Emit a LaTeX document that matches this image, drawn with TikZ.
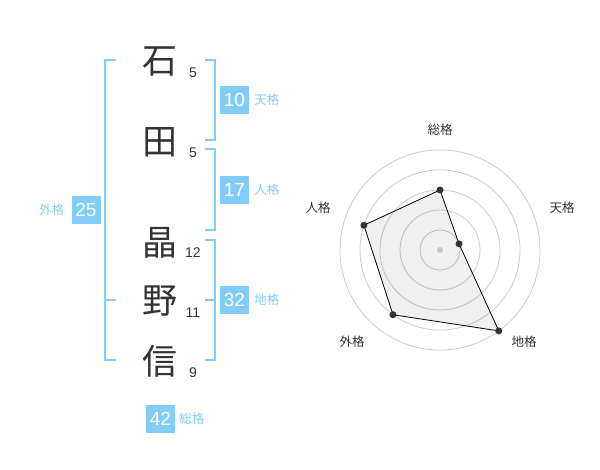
\documentclass[tikz,border=0pt]{standalone}
\usepackage{fontspec}
\setmainfont{Liberation Sans}
\newfontfamily\jp{Noto Sans CJK JP}
\usetikzlibrary{positioning, calc}
\definecolor{kakublue}{RGB}{130,204,250}
\definecolor{moji}{RGB}{51,51,51}
\definecolor{rond}{RGB}{204,204,204}

\begin{document}
\begin{tikzpicture}[x=1pt, y=-1pt,
    kanji/.style={inner sep=0pt, text=moji, font=\jp\fontsize{35}{35}\selectfont},
    kakusu/.style={inner sep=0pt, text=moji, font=\fontsize{14}{14}\selectfont},
    bluebox/.style={fill=kakublue, text=white, inner sep=0pt, minimum width=29pt,
      minimum height=28pt, font=\fontsize{19}{19}\selectfont},
    bluelabel/.style={inner sep=0pt, text=kakublue, font=\jp\fontsize{12.5}{12.5}\selectfont},
    bracket/.style={draw=kakublue, line width=2pt},
    radarlabel/.style={inner sep=0pt, text=moji, font=\jp\fontsize{12.5}{12.5}\selectfont},
    dot/.style={circle, fill=moji, inner sep=0pt, minimum size=7pt}]
      \useasboundingbox (0,0) rectangle (600,470);

      % Les caractères du nom
      \node[kanji] (k1) at (160,62) {石};
      \node[kanji] (k2) at (160,142) {田};
      \node[kanji] (k3) at (160,243) {晶};
      \node[kanji] (k4) at (160,301) {野};
      \node[kanji] (k5) at (160,361) {信};

      \node[kakusu] (n1) at (193,73) {5};
      \node[kakusu] (n2) at (193,153) {5};
      \node[kakusu] (n3) at (193,253) {12};
      \node[kakusu] (n4) at (193,313) {11};
      \node[kakusu] (n5) at (193,373) {9};

      % Les crochets
      \draw[bracket] (205,60) -- (215,60) -- (215,140) -- (205,140);
      \draw[bracket] (205,149) -- (215,149) -- (215,230) -- (205,230);
      \draw[bracket] (205,240) -- (215,240) -- (215,360) -- (205,360);
      \draw[bracket] (205,300) -- (215,300);
      \draw[bracket] (116,60) -- (105,60) -- (105,360) -- (116,360);
      \draw[bracket] (105,300) -- (116,300);

      \node[bluebox] (ten) at (234.5,100) {10};
      \node[bluelabel, right=5pt of ten] (tenl) {天格};
      \node[bluebox] (jin) at (234.5,190) {17};
      \node[bluelabel, right=5pt of jin] (jinl) {人格};
      \node[bluebox] (chi) at (234.5,300) {32};
      \node[bluelabel, right=5pt of chi] (chil) {地格};
      \node[bluebox] (gai) at (86,210) {25};
      \node[bluelabel, left=7pt of gai] (gail) {外格};
      \node[bluebox] (so) at (160.5,419) {42};
      \node[bluelabel, right=4pt of so] (sol) {総格};

      % Le radar
      \coordinate (c) at (440,250);
      \foreach \r in {20, 40, ..., 100} {%
        \draw[rond, line width=0.8pt] (c) circle (\r);
      }

      \coordinate (p1) at ($(c)+(-90:60)$);
      \coordinate (p2) at ($(c)+(-18:20)$);
      \coordinate (p3) at ($(c)+(54:100)$);
      \coordinate (p4) at ($(c)+(126:80)$);
      \coordinate (p5) at ($(c)+(198:80)$);
      \fill[black, fill opacity=0.06] (p1) -- (p2) -- (p3) -- (p4) -- (p5) -- cycle;
      \draw[black, line width=0.8pt] (p1) -- (p2) -- (p3) -- (p4) -- (p5) -- cycle;
      \fill[rond] (c) circle (3.2);
      \foreach \p in {p1, p2, p3, p4, p5} {%
        \node[dot] at (\p) {};
      }

      \node[radarlabel] (r1) at (440,130) {総格};
      \node[radarlabel] (r2) at (562,208) {天格};
      \node[radarlabel] (r3) at (524,342) {地格};
      \node[radarlabel] (r4) at (352,342) {外格};
      \node[radarlabel] (r5) at (318,208) {人格};
    \end{tikzpicture}
\end{document}
